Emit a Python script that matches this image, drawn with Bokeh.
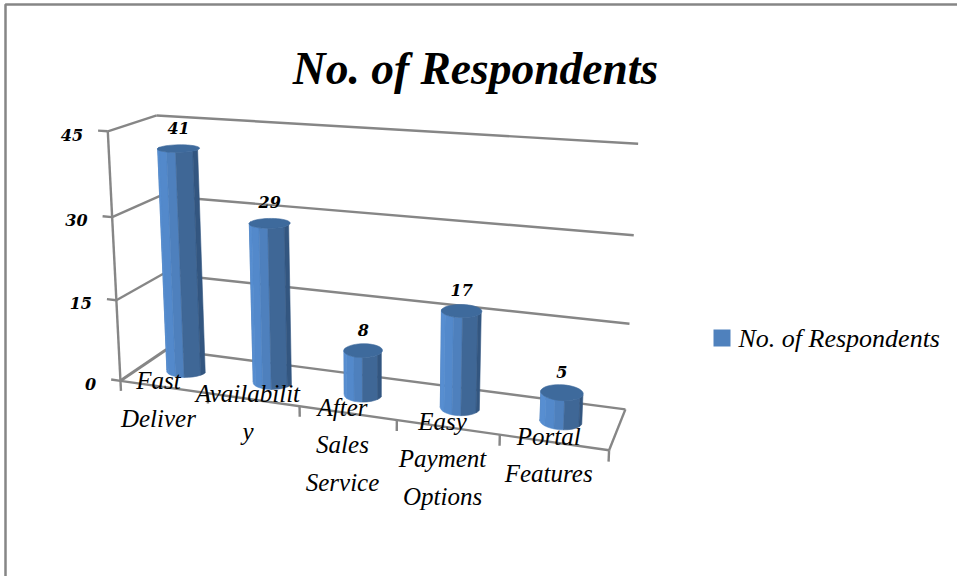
import numpy as np
from bokeh.plotting import figure
from bokeh.models import Range1d
from bokeh.core.properties import value
from bokeh.embed import file_html
from bokeh.resources import INLINE

# ---- chart content
title_text = "No. of Respondents"
categories = [["Fast", "Deliver"], ["Availabilit", "y"], ["After", "Sales", "Service"],
              ["Easy", "Payment", "Options"], ["Portal", "Features"]]
respondents = [41, 29, 8, 17, 5]
tick_values = [0, 15, 30, 45]

SCRIPT = value("Liberation Serif")
BOLD = value("DejaVu Serif")
GREY = "#868686"

# ---- camera: 3D chart box (category, depth, value) -> page pixels
anchors = [((0, 0, 0), (121, 379)), ((5, 0, 0), (608, 450)), ((5, 1, 0), (626, 407)), ((0, 1, 0), (165, 350)),
           ((0, 1, 45), (157, 115)), ((5, 1, 45), (638, 143)), ((0, 0, 45), (107, 131)),
           ((2, 0, 0), (299, 406)), ((3, 0, 0), (396, 420)), ((4, 0, 0), (500, 435)),
           ((5, 1, 30), (633, 235)), ((5, 1, 15), (628, 324)),
           ((0, 0, 30), (111, 216)), ((0, 0, 15), (116, 300))]
A, b = [], []
for (u, d, z), (x, y) in anchors:
    A.append([u, d, z, 1, 0, 0, 0, 0, -x*u, -x*d, -x*z]); b.append(x)
    A.append([0, 0, 0, 0, u, d, z, 1, -y*u, -y*d, -y*z]); b.append(y)
h = np.linalg.lstsq(np.array(A, float), np.array(b, float), rcond=None)[0]


def proj(u, d, z):
    w = h[8]*u + h[9]*d + h[10]*z + 1
    return (h[0]*u + h[1]*d + h[2]*z + h[3]) / w, (h[4]*u + h[5]*d + h[6]*z + h[7]) / w


p = figure(width=957, height=576, output_backend="svg", toolbar_location=None,
           x_range=Range1d(0, 957), y_range=Range1d(576, 0), min_border=0, outline_line_color=None)
p.axis.visible = False
p.grid.visible = False
p.styles = {"position": "absolute", "left": "0px", "top": "0px"}

# frame
p.line([5, 5, 957], [576, 4, 4], line_color=GREY, line_width=2.5)


def seg(a, c, width=2.4):
    pa, pc = proj(*a), proj(*c)
    p.line([pa[0], pc[0]], [pa[1], pc[1]], line_color=GREY, line_width=width)


# walls and floor
for t in tick_values:
    seg((0, 1, t), (5, 1, t))
    seg((0, 0, t), (0, 1, t), 3.0 if t == 0 else 2.4)
    seg((-0.11, 0, t), (0, 0, t))
seg((0, 0, 0), (0, 0, 45))
seg((0, 0, 0), (5, 0, 0))
seg((5, 0, 0), (5, 1, 0))
for i in range(6):
    seg((i, 0, 0), (i, 0, -1.9))

# cylinders
radii = [0.215, 0.205, 0.19, 0.192, 0.197]
nudges = [0.01, 0.0, -0.015, -0.015, -0.03]
rd = 0.2
edges = np.radians([180, 198, 232, 262, 288, 338, 360])
facet_colors = ["#4675ad", "#578ed1", "#5389cb", "#4e80bd", "#3f6796", "#335680"]
for i, val in enumerate(respondents):
    cu, cd = i + 0.5 + nudges[i], 0.5
    ru = radii[i]
    xs, ys, cols = [], [], []
    for k, col in enumerate(facet_colors):
        ang = np.linspace(edges[k], edges[k+1], 5)
        low = [proj(cu + ru*np.cos(a), cd + rd*np.sin(a), 0) for a in ang]
        top = [proj(cu + ru*np.cos(a), cd + rd*np.sin(a), val) for a in ang[::-1]]
        pts = low + top
        xs.append([q[0] for q in pts]); ys.append([q[1] for q in pts]); cols.append(col)
    ang = np.linspace(0, 2*np.pi, 41)
    lid = [proj(cu + ru*np.cos(a), cd + rd*np.sin(a), val) for a in ang]
    xs.append([q[0] for q in lid]); ys.append([q[1] for q in lid]); cols.append("#3e6a9c")
    p.patches(xs, ys, fill_color=cols, line_color=cols, line_width=0.6)
    tx, ty = proj(cu, cd, val)
    p.text([tx], [ty - 21], text=[str(val)], text_font=BOLD, text_font_style="bold italic",
           text_font_size="16px", text_align="center", text_baseline="middle", text_color="#000000")

# value-axis labels
for t in tick_values:
    tx, ty = proj(-0.11, 0, t)
    p.text([tx - 15], [ty + 4], text=[str(t)], text_font=BOLD, text_font_style="bold italic",
           text_font_size="16px", text_align="right", text_baseline="middle", text_color="#000000")

# category labels
for i, lines in enumerate(categories):
    fx, fy = proj(i + 0.5, 0, 0)
    for n, line in enumerate(lines):
        p.text([fx - 5], [fy - 6 + 37.5*n], text=[line], text_font=SCRIPT, text_font_style="italic",
               text_font_size="25px", text_align="center", text_baseline="middle", text_color="#000000")

# title
p.text([475], [68], text=[title_text], text_font=SCRIPT, text_font_style="bold italic",
       text_font_size="45.5px", text_align="center", text_baseline="middle", text_color="#000000")

# legend
p.patches([[713, 730, 730, 713]], [[329, 329, 346, 346]], fill_color="#4f81bd", line_color=None)
p.text([738], [338], text=[title_text], text_font=SCRIPT, text_font_style="italic",
       text_font_size="26px", text_align="left", text_baseline="middle", text_color="#000000")

open("out.html", "w").write(file_html(p, INLINE))
